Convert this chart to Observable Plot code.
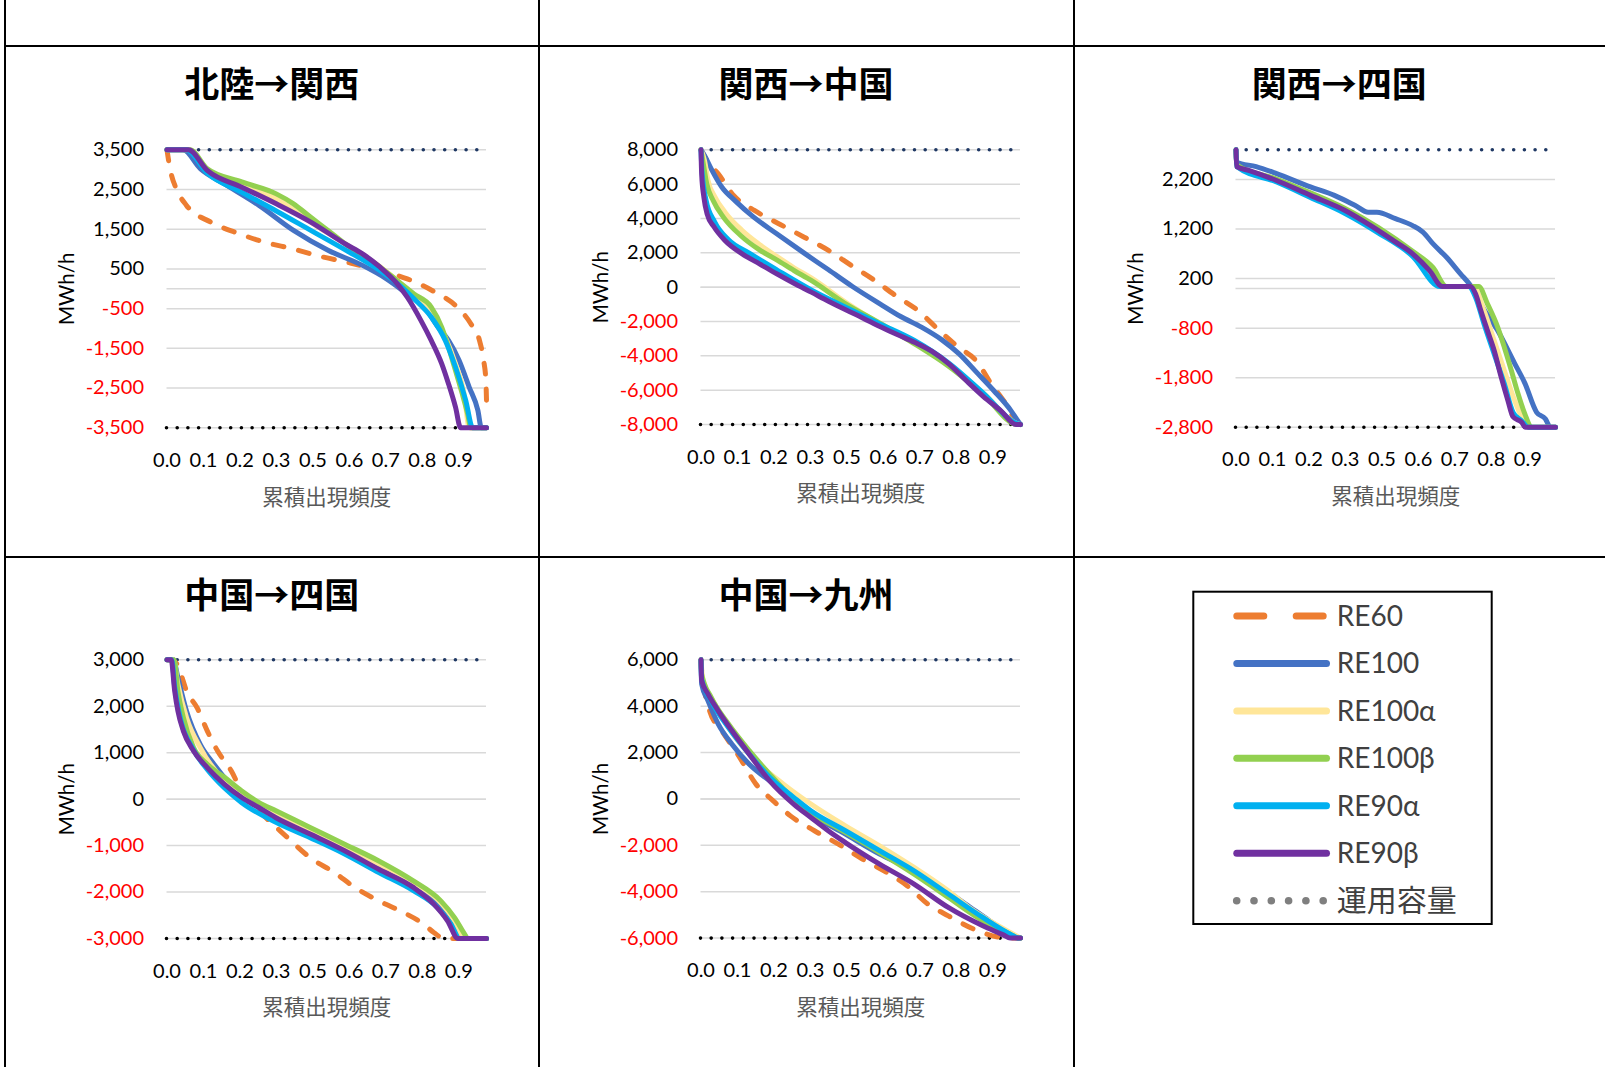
<!DOCTYPE html>
<html><head><meta charset="utf-8">
<script src="https://cdn.jsdelivr.net/npm/d3@7"></script>
<script src="https://cdn.jsdelivr.net/npm/@observablehq/plot@0.6"></script>
<style>
html,body{margin:0;padding:0;background:#fff;}
#root{position:relative;width:1605px;height:1067px;overflow:hidden;background:#fff;}
.vline{position:absolute;top:0;width:2px;height:1067px;background:#000;}
.hline{position:absolute;right:0;height:2px;background:#000;}
.title{position:absolute;font-family:"Noto Sans CJK JP",sans-serif;font-weight:700;font-size:35px;line-height:1;transform:translate(-50%,-50%);white-space:nowrap;color:#000;}
.panel{position:absolute;}
.legend{position:absolute;}
</style></head><body><div id="root"></div>
<script>
// ---------- categories / labels ----------
const panelTitles = ["北陸→関西", "関西→中国", "関西→四国", "中国→四国", "中国→九州"];
const seriesNames = ["RE60", "RE100", "RE100α", "RE100β", "RE90α", "RE90β"];
const seriesColors = ["#ED7D31", "#4472C4", "#FFE699", "#92D050", "#00B0F0", "#7030A0"];
const capacityLabel = "運用容量";
const capacities = [3500, 8000, 2800, 3000, 6000];
const xTickValues = [0, 0.1142, 0.2283, 0.3425, 0.4566, 0.5708, 0.6849, 0.7991, 0.9132];
const xTickLabels = ["0.0", "0.1", "0.2", "0.3", "0.5", "0.6", "0.7", "0.8", "0.9"];
const xAxisTitle = "累積出現頻度";
const yAxisTitle = "MWh/h";
const yTicks_p1 = [-3500, -2500, -1500, -500, 500, 1500, 2500, 3500];
const yTicks_p2 = [-8000, -6000, -4000, -2000, 0, 2000, 4000, 6000, 8000];
const yTicks_p3 = [-2800, -1800, -800, 200, 1200, 2200];
const yTicks_p4 = [-3000, -2000, -1000, 0, 1000, 2000, 3000];
const yTicks_p5 = [-6000, -4000, -2000, 0, 2000, 4000, 6000];

// ---------- series values: [cumulative frequency, MWh/h] ----------
// 北陸→関西
const p1_RE60 = [[0,3500],[0.005,3230],[0.013,2900],[0.029,2520],[0.061,2100],[0.137,1680],[0.218,1410],[0.299,1190],[0.396,1000],[0.488,800],[0.574,650],[0.666,460],[0.752,250],[0.838,-80],[0.908,-460],[0.951,-880],[0.978,-1300],[0.991,-1800],[0.998,-2300],[1,-2810]];
const p1_RE100 = [[0,3500],[0.05,3500],[0.105,3020],[0.18,2640],[0.288,2100],[0.396,1470],[0.504,970],[0.612,590],[0.687,250],[0.752,-130],[0.806,-460],[0.849,-970],[0.881,-1300],[0.914,-1800],[0.946,-2480],[0.973,-3060],[0.984,-3500],[1,-3500]];
const p1_RE100a = [[0,3500],[0.065,3500],[0.126,3000],[0.234,2630],[0.342,2270],[0.45,1680],[0.558,1130],[0.666,560],[0.72,210],[0.773,-170],[0.827,-630],[0.871,-1220],[0.903,-1890],[0.93,-2640],[0.946,-3500],[1,-3500]];
const p1_RE100b = [[0,3500],[0.072,3500],[0.126,3020],[0.234,2690],[0.342,2390],[0.396,2140],[0.45,1800],[0.504,1470],[0.558,1130],[0.612,840],[0.666,550],[0.72,210],[0.773,-130],[0.827,-460],[0.86,-970],[0.881,-1470],[0.903,-2060],[0.924,-2640],[0.941,-3150],[0.951,-3500],[1,-3500]];
const p1_RE90a = [[0,3500],[0.06,3500],[0.126,2910],[0.234,2430],[0.342,1960],[0.45,1470],[0.558,980],[0.666,460],[0.72,140],[0.773,-250],[0.827,-710],[0.871,-1300],[0.903,-1970],[0.935,-2810],[0.957,-3500],[1,-3500]];
const p1_RE90b = [[0,3500],[0.067,3500],[0.126,2980],[0.234,2560],[0.342,2140],[0.45,1680],[0.558,1130],[0.612,880],[0.666,550],[0.72,130],[0.752,-210],[0.795,-800],[0.827,-1300],[0.86,-1890],[0.881,-2390],[0.903,-2980],[0.919,-3500],[1,-3500]];
// 関西→中国
const p2_RE60 = [[0,8000],[0.022,7280],[0.054,6600],[0.102,5340],[0.167,4470],[0.248,3650],[0.323,2910],[0.399,2140],[0.474,1220],[0.539,450],[0.609,-490],[0.679,-1360],[0.746,-2530],[0.803,-3460],[0.865,-4370],[0.905,-5540],[0.954,-6800],[0.989,-7870],[1,-8000]];
const p2_RE100 = [[0,8000],[0.011,7670],[0.032,6890],[0.065,5830],[0.108,5010],[0.162,4120],[0.237,3110],[0.323,1980],[0.399,1010],[0.474,40],[0.56,-970],[0.625,-1710],[0.69,-2330],[0.754,-3070],[0.808,-3890],[0.862,-4950],[0.916,-6020],[0.97,-7190],[0.991,-7770],[1,-8000]];
const p2_RE100a = [[0,8000],[0.011,7380],[0.022,6210],[0.043,5280],[0.075,4370],[0.129,3300],[0.183,2490],[0.237,1790],[0.291,1130],[0.345,540],[0.453,-880],[0.56,-2140],[0.668,-3260],[0.776,-4510],[0.884,-6180],[0.991,-7960],[1,-8000]];
const p2_RE100b = [[0,8000],[0.009,6990],[0.018,6020],[0.038,5050],[0.07,4080],[0.124,3010],[0.183,2170],[0.237,1590],[0.291,970],[0.345,390],[0.453,-970],[0.56,-2100],[0.668,-3300],[0.776,-4620],[0.884,-6250],[0.991,-8000],[1,-8000]];
const p2_RE90a = [[0,8000],[0.003,6800],[0.016,5050],[0.043,3790],[0.086,2760],[0.151,1980],[0.237,1010],[0.345,-160],[0.453,-1170],[0.56,-2140],[0.668,-3110],[0.776,-4430],[0.884,-6180],[0.991,-7960],[1,-8000]];
const p2_RE90b = [[0,8000],[0.002,6600],[0.009,5240],[0.019,4270],[0.041,3500],[0.075,2720],[0.129,1940],[0.183,1360],[0.237,780],[0.291,230],[0.345,-290],[0.399,-820],[0.453,-1320],[0.506,-1790],[0.56,-2290],[0.614,-2760],[0.668,-3210],[0.722,-3730],[0.776,-4470],[0.83,-5440],[0.884,-6370],[0.938,-7190],[0.986,-8000],[1,-8000]];
// 関西→四国
const p3_RE60 = [];
const p3_RE100 = [[0,2800],[0.002,2550],[0.063,2460],[0.127,2320],[0.233,2050],[0.308,1880],[0.372,1680],[0.414,1540],[0.441,1540],[0.499,1410],[0.553,1270],[0.585,1140],[0.617,900],[0.659,630],[0.702,300],[0.734,60],[0.776,-420],[0.819,-850],[0.872,-1510],[0.904,-1910],[0.941,-2500],[0.968,-2630],[0.984,-2800],[1,-2800]];
const p3_RE100a = [[0,2800],[0.002,2470],[0.127,2180],[0.233,1890],[0.34,1560],[0.446,1150],[0.553,680],[0.648,40],[0.743,40],[0.776,-440],[0.808,-1050],[0.84,-1660],[0.872,-2260],[0.894,-2600],[0.915,-2800],[1,-2800]];
const p3_RE100b = [[0,2800],[0.002,2500],[0.127,2210],[0.233,1930],[0.34,1620],[0.446,1230],[0.553,750],[0.617,420],[0.659,40],[0.76,40],[0.787,-310],[0.819,-780],[0.84,-1190],[0.862,-1660],[0.883,-2130],[0.904,-2530],[0.925,-2800],[1,-2800]];
const p3_RE90a = [[0,2800],[0.002,2460],[0.127,2150],[0.233,1840],[0.34,1520],[0.446,1120],[0.553,650],[0.638,40],[0.728,40],[0.75,-180],[0.776,-710],[0.808,-1320],[0.84,-1930],[0.867,-2500],[0.894,-2670],[0.915,-2800],[1,-2800]];
const p3_RE90b = [[0,2800],[0.002,2460],[0.042,2380],[0.127,2180],[0.233,1880],[0.34,1580],[0.404,1340],[0.446,1170],[0.499,940],[0.553,700],[0.606,360],[0.646,40],[0.734,40],[0.75,-110],[0.766,-440],[0.787,-850],[0.808,-1250],[0.83,-1790],[0.851,-2260],[0.867,-2590],[0.894,-2700],[0.906,-2800],[1,-2800]];
// 中国→四国
const p4_RE60 = [[0,3000],[0.025,2960],[0.04,2760],[0.061,2330],[0.094,1970],[0.126,1470],[0.158,1040],[0.201,610],[0.233,180],[0.298,-320],[0.373,-800],[0.448,-1260],[0.524,-1580],[0.588,-1900],[0.663,-2190],[0.728,-2400],[0.803,-2690],[0.835,-2870],[0.868,-3000],[1,-3000]];
const p4_RE100 = [[0,3000],[0.02,3000],[0.034,2620],[0.061,1900],[0.104,1180],[0.147,750],[0.233,70],[0.341,-360],[0.448,-720],[0.556,-1080],[0.663,-1460],[0.771,-1870],[0.846,-2230],[0.889,-2620],[0.921,-3000],[1,-3000]];
const p4_RE100a = [[0,3000],[0.02,3000],[0.034,2480],[0.061,1760],[0.104,1110],[0.18,400],[0.233,140],[0.341,-310],[0.448,-670],[0.556,-1030],[0.663,-1400],[0.771,-1790],[0.857,-2230],[0.9,-2620],[0.927,-3000],[1,-3000]];
const p4_RE100b = [[0,3000],[0.022,3000],[0.034,2330],[0.051,1760],[0.083,1110],[0.126,750],[0.18,470],[0.233,180],[0.287,-70],[0.341,-250],[0.448,-610],[0.556,-970],[0.663,-1330],[0.771,-1760],[0.857,-2190],[0.9,-2550],[0.932,-2910],[0.941,-3000],[1,-3000]];
const p4_RE90a = [[0,3000],[0.015,3000],[0.024,2420],[0.04,1800],[0.083,1060],[0.126,640],[0.18,240],[0.233,-70],[0.341,-500],[0.448,-830],[0.556,-1180],[0.663,-1580],[0.771,-1970],[0.846,-2330],[0.889,-2690],[0.916,-3000],[1,-3000]];
const p4_RE90b = [[0,3000],[0.013,3000],[0.024,2330],[0.034,1900],[0.051,1470],[0.083,1040],[0.126,680],[0.18,320],[0.233,40],[0.287,-180],[0.341,-400],[0.448,-750],[0.556,-1110],[0.663,-1510],[0.771,-1900],[0.835,-2260],[0.878,-2620],[0.911,-3000],[1,-3000]];
// 中国→九州
const p5_RE60 = [[0,6000],[0.002,5500],[0.011,4660],[0.027,3800],[0.065,2940],[0.118,1860],[0.172,640],[0.226,-80],[0.28,-730],[0.355,-1370],[0.43,-1950],[0.505,-2590],[0.581,-3170],[0.645,-3740],[0.71,-4530],[0.774,-5040],[0.86,-5650],[0.935,-5970],[0.957,-6000],[1,-6000]];
const p5_RE100 = [[0,6000],[0.002,4950],[0.022,4230],[0.054,3230],[0.097,2360],[0.151,1500],[0.215,780],[0.258,350],[0.344,-650],[0.452,-1520],[0.559,-2380],[0.645,-2950],[0.72,-3530],[0.828,-4530],[0.903,-5250],[0.968,-5830],[0.989,-6000],[1,-6000]];
const p5_RE100a = [[0,6000],[0.005,5240],[0.043,4090],[0.108,2650],[0.183,1500],[0.258,640],[0.344,-220],[0.452,-1160],[0.559,-2020],[0.667,-2950],[0.774,-3960],[0.839,-4680],[0.903,-5250],[0.968,-5760],[1,-6000]];
const p5_RE100b = [[0,6000],[0.002,5380],[0.032,4380],[0.086,3230],[0.151,2080],[0.215,1070],[0.258,430],[0.344,-580],[0.452,-1440],[0.559,-2310],[0.667,-3240],[0.774,-4250],[0.882,-5250],[0.968,-5830],[0.995,-6000],[1,-6000]];
const p5_RE90a = [[0,6000],[0.002,5170],[0.032,4230],[0.086,3080],[0.151,1930],[0.215,930],[0.29,70],[0.344,-510],[0.452,-1370],[0.559,-2230],[0.667,-3100],[0.774,-4100],[0.882,-5110],[0.968,-5830],[0.995,-6000],[1,-6000]];
const p5_RE90b = [[0,6000],[0.002,5100],[0.022,4520],[0.054,3800],[0.097,2940],[0.151,1930],[0.215,780],[0.29,-220],[0.344,-800],[0.398,-1370],[0.452,-1880],[0.559,-2810],[0.667,-3670],[0.774,-4680],[0.882,-5470],[0.946,-5860],[0.968,-6000],[1,-6000]];

// ---------- assemble ----------
const panelSeries = [
  [p1_RE60, p1_RE100, p1_RE100a, p1_RE100b, p1_RE90a, p1_RE90b],
  [p2_RE60, p2_RE100, p2_RE100a, p2_RE100b, p2_RE90a, p2_RE90b],
  [p3_RE60, p3_RE100, p3_RE100a, p3_RE100b, p3_RE90a, p3_RE90b],
  [p4_RE60, p4_RE100, p4_RE100a, p4_RE100b, p4_RE90a, p4_RE90b],
  [p5_RE60, p5_RE100, p5_RE100a, p5_RE100b, p5_RE90a, p5_RE90b]
];
const panelYTicks = [yTicks_p1, yTicks_p2, yTicks_p3, yTicks_p4, yTicks_p5];

// layout (pixels)
const layout = {
  cellLeft: [5, 538.5, 1073.5], rowTop: [46, 556.7], cellRight: [538.5, 1073.5, 1605],
  col: [0, 1, 2, 0, 1], row: [0, 0, 0, 1, 1],
  frameTop: [103.3, 103.3, 103.3, 102.3, 102.3],
  frameBottom: [381.3, 378, 380.7, 381, 380.6],
  frameLeft: 161.5, frameRight: 481, svgW: 528, svgH: 500
};

const root = document.getElementById("root");
// table borders
[5, 538.5, 1073.5].forEach(x => {
  const d = document.createElement("div"); d.className = "vline"; d.style.left = (x - 1) + "px"; root.appendChild(d);
});
[46, 556.7].forEach(y => {
  const d = document.createElement("div"); d.className = "hline"; d.style.left = "4px"; d.style.top = (y - 1) + "px"; root.appendChild(d);
});

const fmt = d => (d < 0 ? "-" : "") + d3.format(",")(Math.abs(d));
const latin = "Lato, 'Noto Sans CJK JP', sans-serif";

panelTitles.forEach((title, i) => {
  const c = layout.col[i], r = layout.row[i];
  const cl = layout.cellLeft[c], rt = layout.rowTop[r];
  // title
  const t = document.createElement("div");
  t.className = "title"; t.textContent = title;
  t.style.left = ((cl + layout.cellRight[c]) / 2) + "px";
  t.style.top = (rt + 35) + "px";
  root.appendChild(t);

  const cap = capacities[i];
  const ticks = panelYTicks[i];
  const W = layout.svgW, H = layout.svgH;
  const marks = [
    Plot.gridY(ticks, {stroke: "#d9d9d9", strokeOpacity: 1, strokeWidth: 1.5}),
    Plot.ruleY([0], {stroke: "#d9d9d9", strokeWidth: 1.5}),
    Plot.ruleY([cap], {stroke: "#1f3864", strokeWidth: 3.6, strokeDasharray: "0,10.7", strokeLinecap: "round"}),
    Plot.ruleY([-cap], {stroke: "#000000", strokeWidth: 3.6, strokeDasharray: "0,10.7", strokeLinecap: "round"})
  ];
  panelSeries[i].forEach((arr, k) => {
    if (!arr.length) return;
    const rows = arr.map(([f, v]) => ({f, v, s: seriesNames[k]}));
    marks.push(Plot.line(rows, {
      x: "f", y: "v", stroke: seriesColors[k], strokeWidth: 5, curve: "monotone-x",
      strokeLinejoin: "round", strokeLinecap: "round",
      strokeDasharray: k === 0 ? "11,15" : undefined
    }));
  });
  marks.push(
    Plot.axisY(ticks.filter(d => d >= 0), {tickSize: 0, tickPadding: 23, tickFormat: fmt, label: null, fill: "#000", fontSize: 20}),
    Plot.axisY(ticks.filter(d => d < 0), {tickSize: 0, tickPadding: 23, tickFormat: fmt, label: null, fill: "#FF0000", fontSize: 20}),
    Plot.axisX(xTickValues, {tickSize: 0, tickPadding: 25, tickFormat: d => xTickLabels[xTickValues.indexOf(d)], label: null, fill: "#000", fontSize: 20}),
    Plot.text([xAxisTitle], {frameAnchor: "bottom", dy: 70, lineAnchor: "middle", textAnchor: "middle", fill: "#595959", fontSize: 21.5, fontFamily: "'Noto Sans CJK JP', sans-serif"}),
    Plot.text([yAxisTitle], {frameAnchor: "left", dx: -100, rotate: -90, textAnchor: "middle", lineAnchor: "middle", fill: "#000", fontSize: 20.5})
  );
  const chart = Plot.plot({
    width: W, height: H,
    marginLeft: layout.frameLeft - 2,
    marginRight: W - (layout.frameRight - 2),
    marginTop: layout.frameTop[i] - 2,
    marginBottom: H - (layout.frameBottom[i] - 2),
    x: {domain: [0, 1]},
    y: {domain: [-cap, cap]},
    style: {fontFamily: latin, fontSize: "20px", color: "#000", background: "transparent", overflow: "visible"},
    marks
  });
  chart.classList.add("panel");
  chart.style.left = (cl + 2) + "px";
  chart.style.top = (rt + 2) + "px";
  chart.style.position = "absolute";
  root.appendChild(chart);
});

// ---------- legend ----------
const legendNames = seriesNames.concat([capacityLabel]);
const lg = d3.select(root).append("svg").attr("class", "legend")
  .attr("width", 330).attr("height", 360)
  .style("left", "1180px").style("top", "580px");
lg.append("rect").attr("x", 13.3).attr("y", 11.7).attr("width", 298.4).attr("height", 332.3)
  .attr("fill", "#fff").attr("stroke", "#000").attr("stroke-width", 2);
legendNames.forEach((name, i) => {
  const y = 36 + i * 47.45;
  if (i < seriesNames.length) {
    lg.append("line").attr("x1", 56.8).attr("x2", 146.5).attr("y1", y).attr("y2", y)
      .attr("stroke", seriesColors[i]).attr("stroke-width", 7).attr("stroke-linecap", "round")
      .attr("stroke-dasharray", i === 0 ? "27,32.4" : null);
  } else {
    d3.range(6).forEach(j => lg.append("circle").attr("cx", 56.7 + j * 17.3).attr("cy", y).attr("r", 3.8).attr("fill", "#7f7f7f"));
  }
  lg.append("text").attr("x", 156.7).attr("y", y).attr("dy", "0.35em")
    .attr("font-family", i < seriesNames.length ? latin : "'Noto Sans CJK JP', sans-serif")
    .attr("font-size", i < seriesNames.length ? 28 : 30)
    .attr("fill", "#404040").text(name);
});
</script></body></html>
